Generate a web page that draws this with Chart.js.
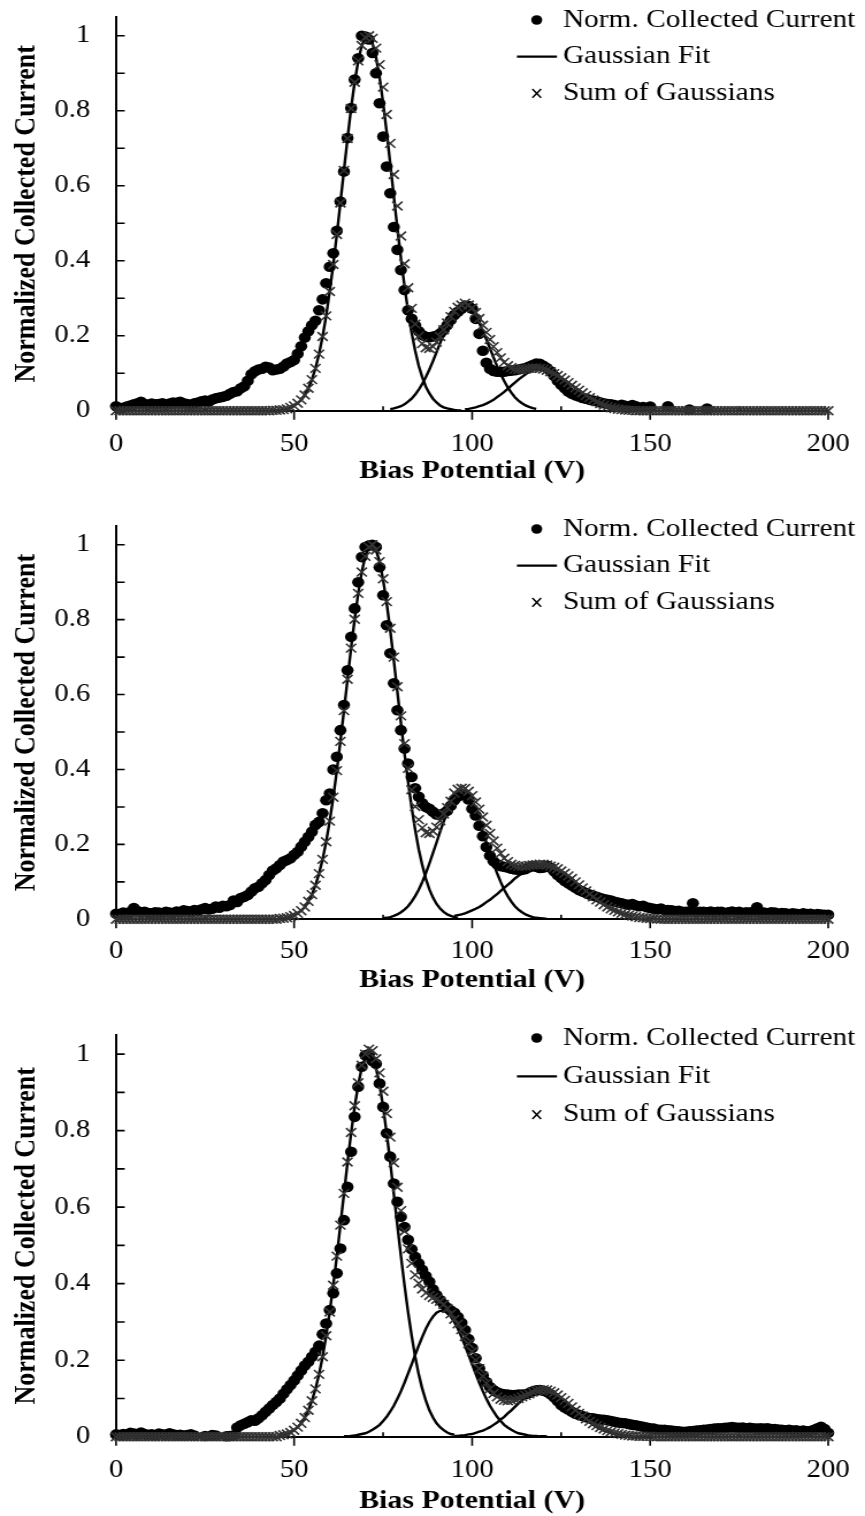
<!DOCTYPE html>
<html>
<head>
<meta charset="utf-8">
<script src="https://cdn.jsdelivr.net/npm/chart.js@4.4.1/dist/chart.umd.min.js"></script>
<style>
html, body { margin: 0; padding: 0; background: #fff; }
#wrap { position: relative; width: 865px; height: 1516px; overflow: hidden; }
.panel { position: absolute; left: 0; }
</style>
</head>
<body>
<div id="wrap">
  <!-- drawn narrower, shown wider: the figure is stretched sideways -->
  <canvas id="c1" class="panel" width="752" height="500" style="top:0px;width:865px;height:500px"></canvas>
  <canvas id="c2" class="panel" width="752" height="505" style="top:500px;width:865px;height:505px"></canvas>
  <canvas id="c3" class="panel" width="752" height="511" style="top:1005px;width:865px;height:511px"></canvas>
</div>
<script>
'use strict'
//bias potential (V), shared by all three panels
const biasV = [
  0,1,2,3,4,5,6,7,8,9,10,11,12,13,14,15,16,17,18,19,
  20,21,22,23,24,25,26,27,28,29,30,31,32,33,34,35,36,37,38,39,
  40,41,42,43,44,45,46,47,48,49,50,51,52,53,54,55,56,57,58,59,
  60,61,62,63,64,65,66,67,68,69,70,71,72,73,74,75,76,77,78,79,
  80,81,82,83,84,85,86,87,88,89,90,91,92,93,94,95,96,97,98,99,
  100,101,102,103,104,105,106,107,108,109,110,111,112,113,114,115,116,117,118,119,
  120,121,122,123,124,125,126,127,128,129,130,131,132,133,134,135,136,137,138,139,
  140,141,142,143,144,145,146,147,148,149,150,151,152,153,154,155,156,157,158,159,
  160,161,162,163,164,165,166,167,168,169,170,171,172,173,174,175,176,177,178,179,
  180,181,182,183,184,185,186,187,188,189,190,191,192,193,194,195,196,197,198,199,
  200
];
//axis ticks
const xMajorTicks = [0, 50, 100, 150, 200];
const xMinorTicks = [25, 75, 125, 175];
const yMinorTicks = [0.1, 0.2, 0.3, 0.4, 0.5, 0.6, 0.7, 0.8, 0.9, 1.0];
const legendNames = ['Norm. Collected Current', 'Gaussian Fit', 'Sum of Gaussians'];

//==================================================================================================
//panel 1
const current1 = [
  0.012,0.006,0.008,0.011,0.014,0.017,0.020,0.024,0.018,0.016,
  0.019,0.017,0.018,0.020,0.016,0.019,0.022,0.021,0.024,0.020,
  0.018,0.015,0.020,0.022,0.025,0.027,0.024,0.030,0.033,0.035,
  0.037,0.040,0.045,0.050,0.052,0.060,0.065,0.080,0.097,0.105,
  0.110,0.112,0.117,0.115,0.108,0.110,0.112,0.118,0.126,0.130,
  0.135,0.152,0.172,0.195,0.212,0.228,0.240,0.268,0.297,0.340,
  0.384,0.420,0.480,0.558,0.638,0.727,0.807,0.883,0.940,1.000,
  0.998,0.990,0.954,0.900,0.820,0.731,0.651,0.580,0.490,0.429,
  0.375,0.322,0.268,0.245,0.228,0.212,0.202,0.197,0.196,0.198,
  0.200,0.206,0.215,0.228,0.242,0.255,0.264,0.272,0.280,0.279,
  0.272,0.245,0.205,0.160,0.128,0.112,0.106,0.104,0.104,0.104,
  0.106,0.107,0.108,0.110,0.112,0.114,0.118,0.122,0.126,0.125,
  0.120,0.114,0.105,0.093,0.080,0.069,0.060,0.051,0.045,0.041,
  0.038,0.034,0.032,0.029,0.027,0.025,0.022,0.020,0.018,0.017,
  0.015,null,0.016,0.013,null,0.015,0.012,null,0.010,null,
  0.011,null,null,null,null,0.012,null,null,null,null,
  null,0.003,null,null,null,null,0.006,null,null,null,
  null,null,null,null,null,null,null,null,null,null,
  null,null,null,null,null,null,null,null,null,null,
  null,null,null,null,null,null,null,null,null,null,
  null
];
const sum1 = [
  0,0,0,0,0,0,0,0,0,0,
  0,0,0,0,0,0,0,0,0,0,
  0,0,0,0,0,0,0,0,0,0,
  0,0,0,0,0,0,0,0,0,0,
  0,0,0,0,0.001,0.001,0.002,0.003,0.005,0.009,
  0.013,0.020,0.029,0.042,0.060,0.083,0.113,0.151,0.198,0.253,
  0.318,0.390,0.470,0.554,0.641,0.726,0.806,0.876,0.933,0.974,
  0.996,1.000,0.993,0.967,0.923,0.863,0.790,0.713,0.630,0.546,
  0.466,0.392,0.328,0.273,0.231,0.199,0.179,0.168,0.166,0.171,
  0.183,0.198,0.216,0.234,0.251,0.265,0.276,0.282,0.287,0.282,
  0.274,0.262,0.246,0.228,0.209,0.190,0.171,0.155,0.141,0.129,
  0.120,0.115,0.111,0.110,0.110,0.111,0.113,0.114,0.114,0.113,
  0.111,0.108,0.104,0.099,0.094,0.088,0.082,0.075,0.068,0.061,
  0.055,0.048,0.041,0.035,0.029,0.024,0.019,0.015,0.011,0.008,
  0.006,0.004,0.003,0.002,0.001,0.001,0,0,0,0,
  0,0,0,0,0,0,0,0,0,0,
  0,0,0,0,0,0,0,0,0,0,
  0,0,0,0,0,0,0,0,0,0,
  0,0,0,0,0,0,0,0,0,0,
  0,0,0,0,0,0,0,0,0,0,
  0
];
const fitStart1 = [44, 77, 98];
const gauss1a = [
  0.001,0.001,0.002,0.003,0.005,0.009,0.013,0.020,0.029,0.042,
  0.060,0.083,0.113,0.151,0.198,0.253,0.318,0.390,0.470,0.554,
  0.641,0.726,0.806,0.876,0.933,0.974,0.996,0.998,0.980,0.943,
  0.889,0.821,0.743,0.658,0.572,0.487,0.406,0.332,0.266,0.208,
  0.160,0.120,0.089,0.064,0.046,0.032,0.022,0.014,0.009,0.006,
  0.004,0.002,0.001,0.001
];
const gauss1b = [
  0.004,0.006,0.009,0.012,0.017,0.024,0.032,0.043,0.056,0.072,
  0.090,0.110,0.132,0.156,0.180,0.204,0.226,0.246,0.262,0.274,
  0.281,0.282,0.277,0.267,0.253,0.234,0.213,0.190,0.166,0.142,
  0.119,0.098,0.079,0.062,0.048,0.036,0.027,0.020,0.014,0.010,
  0.007,0.005
];
const gauss1c = [
  0.004,0.005,0.007,0.009,0.012,0.015,0.019,0.024,0.029,0.036,
  0.043,0.050,0.058,0.067,0.075,0.083,0.090,0.097,0.103,0.107,
  0.109,0.110,0.109,0.107,0.104,0.099,0.094,0.088,0.082,0.075,
  0.068,0.061,0.055,0.048,0.041,0.035,0.029,0.024,0.019,0.015,
  0.011,0.008,0.006,0.004
];

//==================================================================================================
//panel 2
const current2 = [
  0.015,0.012,0.018,0.015,0.020,0.030,0.022,0.018,0.020,0.017,
  0.016,0.019,0.018,0.016,0.020,0.018,0.017,0.021,0.019,0.024,
  0.022,0.020,0.025,0.023,0.027,0.030,0.026,0.028,0.034,0.031,
  0.036,0.035,0.038,0.050,0.046,0.057,0.060,0.065,0.074,0.083,
  0.087,0.096,0.105,0.118,0.130,0.136,0.145,0.154,0.158,0.163,
  0.172,0.180,0.194,0.207,0.220,0.234,0.252,0.260,0.283,0.318,
  0.336,0.400,0.434,0.505,0.572,0.665,0.754,0.830,0.900,0.967,
  0.994,0.998,1.000,0.994,0.940,0.865,0.785,0.710,0.630,0.558,
  0.505,0.456,0.416,0.380,0.350,0.327,0.310,0.300,0.295,0.287,
  0.280,0.278,0.283,0.290,0.303,0.318,0.328,0.334,0.332,0.320,
  0.295,0.277,0.250,0.222,0.193,0.170,0.155,0.147,0.142,0.140,
  0.138,0.135,0.133,0.132,0.132,0.134,0.139,0.142,0.140,0.137,
  0.138,0.143,0.138,0.128,0.118,0.110,0.102,0.096,0.090,0.084,
  0.078,0.074,0.070,0.066,0.063,0.060,0.057,0.054,0.052,0.050,
  0.047,0.045,0.043,0.040,0.039,0.041,0.037,0.035,0.036,0.032,
  0.030,0.028,0.027,0.029,0.025,0.025,0.024,0.022,0.023,0.020,
  0.020,0.021,0.043,0.018,0.020,0.020,0.019,0.021,0.018,0.020,
  0.020,0.017,0.019,0.021,0.018,0.020,0.017,0.019,0.018,0.020,
  0.032,0.017,0.018,0.016,0.019,0.018,0.015,0.017,0.016,0.014,
  0.016,0.015,0.013,0.016,0.014,0.015,0.012,0.014,0.013,0.012,
  0.012
];
const sum2 = [
  0,0,0,0,0,0,0,0,0,0,
  0,0,0,0,0,0,0,0,0,0,
  0,0,0,0,0,0,0,0,0,0,
  0,0,0,0,0,0,0,0,0,0,
  0,0,0,0,0,0,0.002,0.003,0.004,0.007,
  0.010,0.016,0.023,0.033,0.048,0.066,0.091,0.122,0.160,0.207,
  0.262,0.326,0.397,0.475,0.557,0.641,0.724,0.801,0.870,0.927,
  0.969,0.994,1.000,0.986,0.955,0.909,0.848,0.777,0.700,0.621,
  0.543,0.469,0.403,0.346,0.301,0.266,0.244,0.231,0.229,0.235,
  0.246,0.263,0.281,0.298,0.315,0.337,0.347,0.350,0.349,0.342,
  0.330,0.313,0.294,0.273,0.251,0.229,0.209,0.190,0.176,0.163,
  0.154,0.147,0.144,0.142,0.142,0.142,0.144,0.145,0.146,0.147,
  0.147,0.145,0.142,0.139,0.135,0.129,0.123,0.116,0.109,0.100,
  0.092,0.084,0.076,0.067,0.060,0.052,0.046,0.039,0.033,0.028,
  0.024,0.020,0.016,0.013,0.011,0.009,0.007,0.005,0.004,0.003,
  0.002,0.002,0.001,0,0,0,0,0,0,0,
  0,0,0,0,0,0,0,0,0,0,
  0,0,0,0,0,0,0,0,0,0,
  0,0,0,0,0,0,0,0,0,0,
  0,0,0,0,0,0,0,0,0,0,
  0
];
const fitStart2 = [46, 75, 95];
const gauss2a = [
  0.002,0.003,0.004,0.007,0.010,0.016,0.023,0.033,0.048,0.066,
  0.091,0.122,0.160,0.207,0.262,0.326,0.397,0.475,0.557,0.641,
  0.724,0.801,0.870,0.927,0.969,0.994,1.000,0.986,0.955,0.906,
  0.844,0.771,0.691,0.608,0.524,0.443,0.368,0.299,0.239,0.187,
  0.144,0.108,0.080,0.058,0.041,0.029,0.020,0.013,0.009,0.006,
  0.004
];
const gauss2b = [
  0.003,0.004,0.006,0.009,0.013,0.019,0.026,0.035,0.047,0.062,
  0.079,0.100,0.123,0.149,0.177,0.205,0.234,0.261,0.285,0.306,
  0.322,0.332,0.335,0.332,0.322,0.306,0.285,0.261,0.234,0.205,
  0.177,0.149,0.123,0.100,0.079,0.062,0.047,0.035,0.026,0.019,
  0.013,0.009,0.006,0.004,0.003,0.002,0.001
];
const gauss2c = [
  0.009,0.011,0.013,0.016,0.020,0.024,0.028,0.033,0.039,0.046,
  0.052,0.060,0.067,0.076,0.084,0.092,0.100,0.109,0.116,0.123,
  0.129,0.135,0.139,0.142,0.144,0.145,0.144,0.142,0.139,0.135,
  0.129,0.123,0.116,0.109,0.100,0.092,0.084,0.076,0.067,0.060,
  0.052,0.046,0.039,0.033,0.028,0.024,0.020,0.016,0.013,0.011,
  0.009
];

//==================================================================================================
//panel 3
const current3 = [
  0.006,0.004,0.007,0.005,0.010,0.008,0.006,0.011,0.007,0.005,
  0.006,0.004,0.008,0.006,0.005,0.009,0.006,0.004,0.005,0.003,
  0.004,0.006,0.003,null,null,0.002,null,0.004,0.003,null,
  null,0.001,0.002,0.003,0.024,0.030,0.034,0.038,0.043,0.042,
  0.048,0.056,0.065,0.074,0.083,0.091,0.100,0.112,0.124,0.135,
  0.147,0.160,0.173,0.186,0.196,0.209,0.222,0.238,0.268,0.296,
  0.331,0.375,0.427,0.492,0.566,0.653,0.745,0.836,0.915,0.967,
  0.997,1.000,0.982,0.975,0.923,0.862,0.793,0.732,0.662,0.614,
  0.575,0.548,0.515,0.490,0.470,0.453,0.436,0.420,0.405,0.385,
  0.370,0.357,0.346,0.337,0.330,0.324,0.313,0.298,0.279,0.255,
  0.232,0.205,0.178,0.160,0.143,0.130,0.122,0.116,0.113,0.111,
  0.110,0.109,0.109,0.110,0.110,0.111,0.114,0.118,0.121,0.122,
  0.120,0.117,0.111,0.103,0.093,0.083,0.076,0.071,0.065,0.060,
  0.057,0.054,0.051,0.049,0.048,0.046,0.045,0.044,0.043,0.041,
  0.039,0.037,0.036,0.035,0.033,0.031,0.030,0.028,0.026,0.024,
  0.022,0.021,0.019,0.018,0.018,0.017,0.016,0.015,0.014,0.013,
  0.013,0.014,0.015,0.016,0.017,0.018,0.019,0.020,0.021,0.022,
  0.022,0.023,0.024,0.025,0.024,0.023,0.024,0.022,0.023,0.022,
  0.021,0.022,0.021,0.022,0.020,0.020,0.019,0.018,0.017,0.018,
  0.016,0.017,0.015,0.016,0.014,0.015,0.018,0.022,0.026,0.020,
  0.010
];
const sum3 = [
  0,0,0,0,0,0,0,0,0,0,
  0,0,0,0,0,0,0,0,0,0,
  0,0,0,0,0,0,0,0,0,0,
  0,0,0,0,0,0,0,0,0,0,
  0,0,0,0,0,0,0.003,0.005,0.007,0.011,
  0.017,0.025,0.035,0.050,0.069,0.094,0.125,0.163,0.209,0.264,
  0.326,0.396,0.472,0.553,0.636,0.718,0.795,0.865,0.925,0.971,
  1.000,1.013,1.009,0.988,0.951,0.903,0.845,0.783,0.716,0.652,
  0.591,0.537,0.491,0.453,0.423,0.401,0.386,0.376,0.369,0.364,
  0.359,0.354,0.346,0.335,0.321,0.307,0.295,0.280,0.262,0.243,
  0.222,0.200,0.178,0.158,0.140,0.125,0.113,0.104,0.098,0.095,
  0.094,0.095,0.097,0.100,0.104,0.108,0.112,0.117,0.121,0.122,
  0.123,0.122,0.119,0.115,0.109,0.102,0.095,0.087,0.078,0.069,
  0.061,0.054,0.047,0.040,0.034,0.029,0.024,0.020,0.016,0.013,
  0.010,0.008,0.006,0.004,0.003,0.002,0.002,0.001,0.001,0.001,
  0.001,0,0,0,0,0,0,0,0,0,
  0,0,0,0,0,0,0,0,0,0,
  0,0,0,0,0,0,0,0,0,0,
  0,0,0,0,0,0,0,0,0,0,
  0,0,0,0,0,0,0,0,0,0,
  0
];
const fitStart3 = [46, 64, 95];
const gauss3a = [
  0.003,0.005,0.007,0.011,0.017,0.025,0.035,0.050,0.069,0.094,
  0.125,0.163,0.209,0.264,0.326,0.396,0.472,0.553,0.635,0.717,
  0.793,0.862,0.920,0.964,0.991,1.000,0.991,0.964,0.920,0.862,
  0.793,0.717,0.635,0.553,0.472,0.396,0.326,0.264,0.209,0.163,
  0.125,0.094,0.069,0.050,0.035,0.025,0.017,0.011,0.007,0.005
];
const gauss3b = [
  0.001,0.001,0.002,0.003,0.005,0.007,0.009,0.013,0.018,0.024,
  0.031,0.041,0.052,0.066,0.081,0.099,0.119,0.141,0.165,0.189,
  0.214,0.238,0.261,0.282,0.300,0.314,0.324,0.329,0.329,0.324,
  0.314,0.300,0.282,0.261,0.238,0.214,0.189,0.165,0.141,0.119,
  0.099,0.081,0.066,0.052,0.041,0.031,0.024,0.018,0.013,0.009,
  0.007,0.005,0.003,0.002,0.002,0.001,0.001,0.001
];
const gauss3c = [
  0.002,0.002,0.003,0.004,0.006,0.007,0.010,0.013,0.016,0.020,
  0.025,0.031,0.037,0.045,0.052,0.061,0.069,0.078,0.087,0.095,
  0.102,0.109,0.115,0.119,0.121,0.122,0.121,0.119,0.115,0.109,
  0.102,0.095,0.087,0.078,0.069,0.061,0.052,0.045,0.037,0.031,
  0.025,0.020,0.016,0.013,0.010,0.007,0.006,0.004,0.003,0.002,
  0.002
];

//==================================================================================================

Chart.defaults.font.family = "'Liberation Serif', 'Times New Roman', serif";
Chart.defaults.color = '#000';

//x,y 짝 만들기 (null 은 그리지 않음)
function pairs(xs, ys){
    return ys.map((y, i) => ({ x: xs[i], y: y }));
}

//안쪽 눈금 (y 0.1 간격, x 25 간격)
const axisMarks = {
    id: 'axisMarks',
    beforeDatasetsDraw(chart){
        const ctx = chart.ctx;
        const xs = chart.scales.x;
        const ys = chart.scales.y;
        const left = chart.chartArea.left;
        const bottom = chart.chartArea.bottom;
        ctx.save();
        ctx.strokeStyle = '#000';
        ctx.lineWidth = 1.6;
        ctx.beginPath();
        yMinorTicks.forEach((v) => {
            const py = ys.getPixelForValue(v);
            ctx.moveTo(left, py);
            ctx.lineTo(left + 7.5, py);
        });
        xMinorTicks.forEach((v) => {
            const px = xs.getPixelForValue(v);
            ctx.moveTo(px, bottom);
            ctx.lineTo(px, bottom - 4.5);
        });
        xMajorTicks.forEach((v) => {
            const px = xs.getPixelForValue(v);
            ctx.moveTo(px, bottom);
            ctx.lineTo(px, bottom + 9);
        });
        ctx.stroke();
        ctx.restore();
    }
};

//오른쪽 위 범례
const cornerLegend = {
    id: 'cornerLegend',
    afterDraw(chart, args, opts){
        const ctx = chart.ctx;
        const a = chart.chartArea;
        const mx = a.left + 365.7;
        const tx = a.left + 388.5;
        ctx.save();
        ctx.font = "25.5px 'Liberation Serif', 'Times New Roman', serif";
        ctx.fillStyle = '#000';
        ctx.strokeStyle = '#000';
        ctx.textAlign = 'left';
        ctx.textBaseline = 'middle';
        legendNames.forEach((name, i) => {
            const y = a.top + 3 + i * opts.gap;
            if(i === 0){
                ctx.beginPath();
                ctx.arc(mx, y, 4.8, 0, Math.PI * 2);
                ctx.fill();
            }
            else if(i === 1){
                ctx.lineWidth = 2.2;
                ctx.beginPath();
                ctx.moveTo(a.left + 348.5, y);
                ctx.lineTo(a.left + 383.3, y);
                ctx.stroke();
            }
            else{
                ctx.lineWidth = 1.5;
                ctx.beginPath();
                ctx.moveTo(mx - 3.8, y - 4.3);
                ctx.lineTo(mx + 3.8, y + 4.3);
                ctx.moveTo(mx + 3.8, y - 4.3);
                ctx.lineTo(mx - 3.8, y + 4.3);
                ctx.stroke();
            }
            ctx.fillText(name, tx, y);
        });
        ctx.restore();
    }
};

function makePanel(p){
    const fitSets = p.fits.map((ys, k) => ({
        data: pairs(biasV.slice(p.fitStart[k]), ys),
        showLine: true,
        borderColor: '#000',
        backgroundColor: '#000',
        borderWidth: 2.4,
        pointRadius: 0,
        tension: 0,
        clip: false,
        order: 1
    }));
    new Chart(document.getElementById(p.id), {
        type: 'scatter',
        data: {
            datasets: [
                {
                    data: pairs(biasV, p.sum),
                    pointStyle: 'crossRot',
                    pointRadius: 6.2,
                    borderColor: '#333',
                    backgroundColor: '#333',
                    borderWidth: 1.6,
                    clip: false,
                    order: 0
                },
                ...fitSets,
                {
                    data: pairs(biasV, p.current),
                    pointStyle: 'circle',
                    pointRadius: 5.3,
                    backgroundColor: '#000',
                    borderColor: '#000',
                    borderWidth: 0,
                    clip: false,
                    order: 2
                }
            ]
        },
        options: {
            responsive: false,
            animation: false,
            events: [],
            devicePixelRatio: 1,
            layout: { padding: { top: p.padTop, right: 32, bottom: 0, left: 0 } },
            plugins: {
                legend: { display: false },
                tooltip: { enabled: false },
                colors: { enabled: false },
                cornerLegend: { gap: p.legendGap }
            },
            scales: {
                x: {
                    type: 'linear',
                    min: 0,
                    max: 200,
                    grid: { display: false, drawTicks: false },
                    border: { display: true, color: '#000', width: 2 },
                    ticks: { stepSize: 50, padding: p.tickPad, font: { size: 25 } },
                    title: {
                        display: true,
                        text: 'Bias Potential (V)',
                        font: { size: 26, weight: 'bold', lineHeight: 1 },
                        padding: { top: 0, bottom: p.titlePad }
                    },
                    afterFit(scale){
                        scale.height = p.axisH;
                        scale.paddingLeft = 0;
                        scale.paddingRight = 0;
                    }
                },
                y: {
                    type: 'linear',
                    min: 0,
                    max: 1.05,
                    grid: { display: false, drawTicks: false },
                    border: { display: true, color: '#000', width: 2 },
                    ticks: {
                        stepSize: 0.2,
                        includeBounds: false,
                        padding: 22.5,
                        font: { size: 25 },
                        callback: (v) => String(+v.toFixed(1))
                    },
                    title: {
                        display: true,
                        text: 'Normalized Collected Current',
                        font: { size: 26, weight: 'bold', lineHeight: 1 },
                        padding: { top: 10.2, bottom: 0 }
                    },
                    afterFit(scale){
                        scale.width = 100.9;
                        scale.paddingTop = 0;
                        scale.paddingBottom = 0;
                    }
                }
            }
        },
        plugins: [axisMarks, cornerLegend]
    });
}

makePanel({ id: 'c1', current: current1, sum: sum1, fits: [gauss1a, gauss1b, gauss1c], fitStart: fitStart1,
    padTop: 17, axisH: 89.3, tickPad: 19, titlePad: 15.3, legendGap: 36.7 });
makePanel({ id: 'c2', current: current2, sum: sum2, fits: [gauss2a, gauss2b, gauss2c], fitStart: fitStart2,
    padTop: 26, axisH: 85.7, tickPad: 17.5, titlePad: 12, legendGap: 36.7 });
makePanel({ id: 'c3', current: current3, sum: sum3, fits: [gauss3a, gauss3b, gauss3c], fitStart: fitStart3,
    padTop: 30, axisH: 79.3, tickPad: 18.5, titlePad: 2, legendGap: 38.3 });
</script>
</body>
</html>
